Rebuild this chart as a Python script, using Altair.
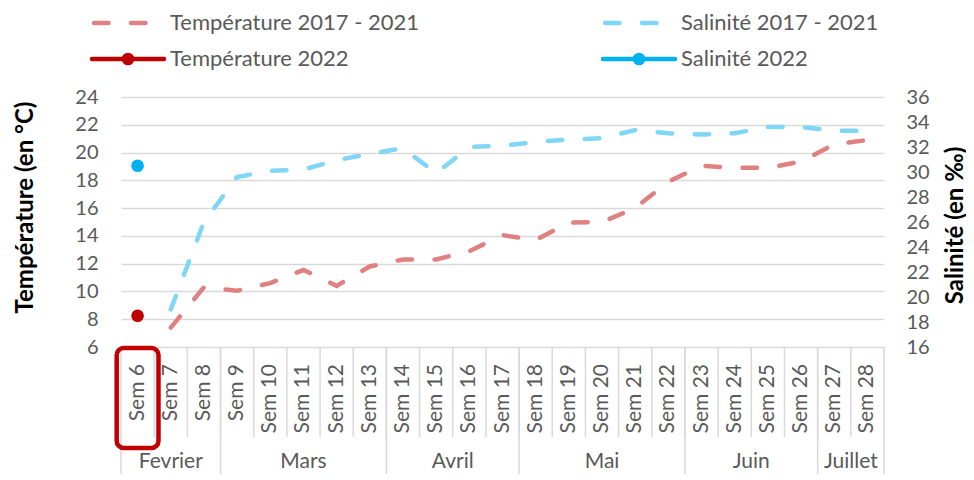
import altair as alt
import pandas as pd

# ---- data ----
weeks = list(range(6, 29))
temp_hist = [None, 7.4, 10.3, 10.05, 10.6, 11.55, 10.4, 11.8, 12.3, 12.3, 12.9, 14.05, 13.7,
             14.95, 15.0, 16.0, 17.9, 19.05, 18.9, 18.9, 19.35, 20.6, 20.9]
sal_hist = [None, 19.0, 26.0, 29.6, 30.1, 30.2, 30.95, 31.45, 31.9, 29.9, 32.0, 32.1, 32.4,
            32.6, 32.7, 33.35, 33.1, 33.0, 33.1, 33.6, 33.6, 33.3, 33.3]
week_2022 = [6]
temp_2022 = [8.25]
sal_2022 = [30.5]

months = ["Fevrier", "Mars", "Avril", "Mai", "Juin", "Juillet"]
month_start = [6, 9, 14, 18, 23, 27]
month_end = [8, 13, 17, 22, 26, 28]

left_ticks = list(range(6, 25, 2))
right_ticks = list(range(16, 37, 2))

# ---- tables ----
hist = pd.DataFrame({"week": weeks, "temp": temp_hist, "sal": sal_hist}).dropna()
cur = pd.DataFrame({"week": week_2022, "temp": temp_2022, "sal": sal_2022})
wk = pd.DataFrame({"week": weeks, "label": [f"Sem {w}" for w in weeks]})
mo = pd.DataFrame({"month": months, "start": month_start, "end": month_end})

FONT = "Lato"
GREY = "#595959"
GRID = "#D9D9D9"
T_LIGHT = "#E08080"
S_LIGHT = "#7FD6F7"
T_DARK = "#C00000"
S_DARK = "#00B0F0"
DASH = [14.5, 22.5]
W = 763
H = 250

xscale = alt.Scale(domain=[5.5, 28.5], nice=False, zero=False)
tscale = alt.Scale(domain=[6, 24], nice=False, zero=False)
sscale = alt.Scale(domain=[16, 36], nice=False, zero=False)

X = alt.X("week:Q", scale=xscale, axis=None)

temp_line = alt.Chart(hist).mark_line(
    color=T_LIGHT, strokeWidth=4.5, strokeDash=DASH, strokeCap="round"
).encode(
    x=X,
    y=alt.Y("temp:Q", scale=tscale, axis=alt.Axis(
        values=left_ticks, grid=True, gridColor=GRID, gridWidth=1.5,
        domain=False, ticks=False, labelFontSize=20, labelColor=GREY,
        labelFont=FONT, labelPadding=23, labelOverlap=False,
        title="Température  (en °C)", titleFontSize=24, titleFontWeight="bold",
        titleColor="black", titleFont=FONT, titleX=-96, titleY=110,
        titleAngle=270, titleAlign="center", titleBaseline="middle")),
)

sal_line = alt.Chart(hist).mark_line(
    color=S_LIGHT, strokeWidth=4.5, strokeDash=DASH, strokeCap="round"
).encode(
    x=X,
    y=alt.Y("sal:Q", scale=sscale, axis=alt.Axis(
        orient="right", values=right_ticks, grid=False,
        domain=False, ticks=False, labelFontSize=20, labelColor=GREY,
        labelFont=FONT, labelPadding=22, labelOverlap=False,
        title="Salinité (en ‰)", titleFontSize=24, titleFontWeight="bold",
        titleColor="black", titleFont=FONT, titleX=71, titleY=128,
        titleAngle=270, titleAlign="center", titleBaseline="middle")),
)

temp_pt = alt.Chart(cur).mark_circle(size=160, color=T_DARK, opacity=1).encode(
    x=X, y=alt.Y("temp:Q", scale=tscale, axis=None))
sal_pt = alt.Chart(cur).mark_circle(size=160, color=S_DARK, opacity=1).encode(
    x=X, y=alt.Y("sal:Q", scale=sscale, axis=None))

# ---- category axis drawn below the plot ----
week_labels = alt.Chart(wk).mark_text(
    angle=270, align="right", baseline="middle", fontSize=21, font=FONT, color=GREY
).encode(x=X, y=alt.value(267), text="label:N")

week_seps = alt.Chart(wk).transform_filter("datum.week < 28").transform_calculate(
    sep="datum.week + 0.5"
).mark_rule(color=GRID, strokeWidth=1.5).encode(
    x=alt.X("sep:Q", scale=xscale, axis=None), y=alt.value(H), y2=alt.value(340))

month_left = alt.Chart(mo).transform_calculate(sep="datum.start - 0.5").mark_rule(
    color=GRID, strokeWidth=1.5).encode(
    x=alt.X("sep:Q", scale=xscale, axis=None), y=alt.value(H), y2=alt.value(386))
month_right = alt.Chart(mo).transform_filter("datum.end == 28").transform_calculate(
    sep="datum.end + 0.5").mark_rule(color=GRID, strokeWidth=1.5).encode(
    x=alt.X("sep:Q", scale=xscale, axis=None), y=alt.value(H), y2=alt.value(386))

month_labels = alt.Chart(mo).transform_calculate(mid="(datum.start + datum.end) / 2").mark_text(
    align="center", baseline="middle", fontSize=21, font=FONT, color=GREY
).encode(x=alt.X("mid:Q", scale=xscale, axis=None), y=alt.value(365), text="month:N")

# red rounded frame around Sem 6
frame = alt.Chart(cur).transform_calculate(
    lo="datum.week - 0.63", hi="datum.week + 0.63"
).mark_rect(fillOpacity=0, stroke=T_DARK, strokeWidth=4.5, cornerRadius=7).encode(
    x=alt.X("lo:Q", scale=xscale, axis=None), x2="hi:Q",
    y=alt.value(251), y2=alt.value(351))


# ---- legend ----
def legend_item(label, color, dashed, x0, y):
    base = alt.Chart(pd.DataFrame({"label": [label]}))
    layers = []
    if dashed:
        layers.append(base.mark_rule(color=color, strokeWidth=4.5, strokeCap="round",
                                     strokeDash=DASH).encode(
            x=alt.value(x0 + 2), x2=alt.value(x0 + 58), y=alt.value(y)))
    else:
        layers.append(base.mark_rule(color=color, strokeWidth=4.5, strokeCap="round").encode(
            x=alt.value(x0), x2=alt.value(x0 + 72), y=alt.value(y)))
        layers.append(base.mark_circle(size=160, color=color, opacity=1).encode(
            x=alt.value(x0 + 36), y=alt.value(y)))
    layers.append(base.mark_text(align="left", baseline="middle", fontSize=22,
                                 font=FONT, color=GREY).encode(
        x=alt.value(x0 + 78), y=alt.value(y), text="label:N"))
    return layers


legend = (legend_item("Température 2017 - 2021", T_LIGHT, True, -29, -74)
          + legend_item("Salinité 2017 - 2021", S_LIGHT, True, 482, -74)
          + legend_item("Température 2022", T_DARK, False, -29, -38)
          + legend_item("Salinité 2022", S_DARK, False, 482, -38))

chart = alt.layer(
    temp_line, sal_line, temp_pt, sal_pt,
    week_seps, month_left, month_right, week_labels, month_labels, frame,
    *legend
).resolve_scale(y="independent").properties(
    width=W, height=H,
    padding={"left": 113, "top": 89, "right": 82, "bottom": 127},
    autosize=alt.AutoSizeParams(type="none"),
).configure_view(stroke=None)

chart.save("out.html", embed_options={"renderer": "svg", "actions": False})
